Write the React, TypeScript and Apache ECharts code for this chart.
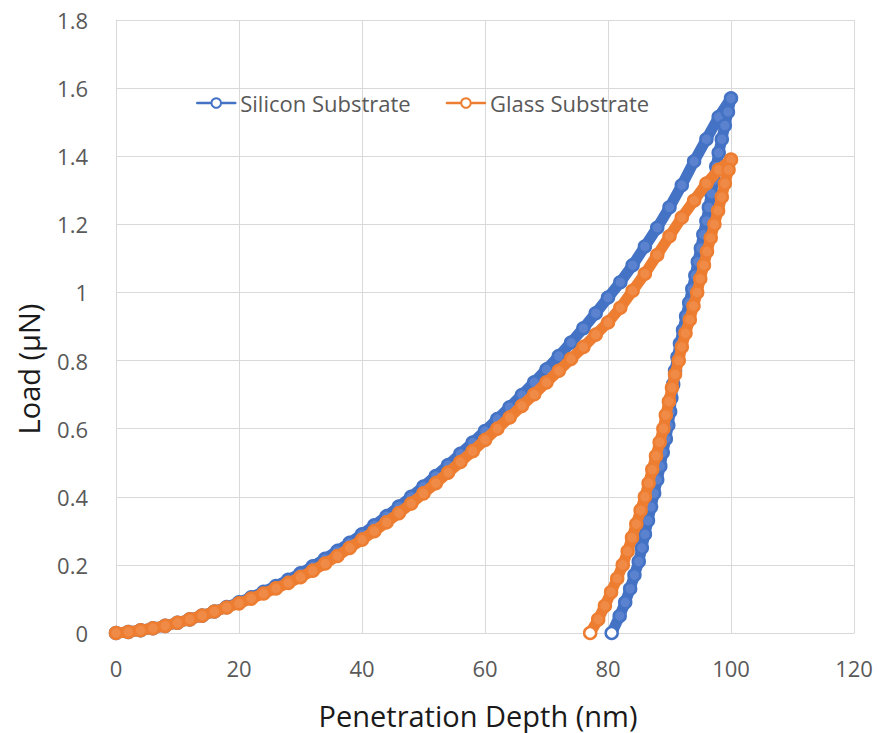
import React, { useEffect, useRef } from 'react';
import * as echarts from 'echarts';

// Loading branch depths (nm), sampled every 2 nm
const loadingDepth = [
  0, 2, 4, 6, 8, 10, 12, 14, 16, 18, 20, 22, 24, 26, 28, 30, 32, 34, 36, 38, 40,
  42, 44, 46, 48, 50, 52, 54, 56, 58, 60, 62, 64, 66, 68, 70, 72, 74, 76, 78, 80,
  82, 84, 86, 88, 90, 92, 94, 96, 98, 100,
];

// Silicon substrate – loading (µN)
const siliconLoadingLoad = [
  0, 0.003, 0.008, 0.014, 0.021, 0.03, 0.04, 0.051, 0.063, 0.076, 0.09, 0.105,
  0.121, 0.138, 0.156, 0.175, 0.196, 0.218, 0.241, 0.265, 0.29, 0.316, 0.343,
  0.371, 0.4, 0.43, 0.461, 0.493, 0.526, 0.559, 0.593, 0.628, 0.663, 0.699,
  0.736, 0.774, 0.813, 0.853, 0.895, 0.939, 0.985, 1.03, 1.08, 1.135, 1.19,
  1.25, 1.315, 1.385, 1.45, 1.515, 1.57,
];

// Glass substrate – loading (µN)
const glassLoadingLoad = [
  0, 0.003, 0.008, 0.014, 0.021, 0.03, 0.04, 0.051, 0.063, 0.075, 0.087, 0.101,
  0.116, 0.131, 0.147, 0.164, 0.183, 0.204, 0.226, 0.25, 0.274, 0.299, 0.325,
  0.352, 0.38, 0.41, 0.44, 0.471, 0.502, 0.534, 0.567, 0.6, 0.633, 0.667,
  0.701, 0.736, 0.77, 0.805, 0.84, 0.876, 0.912, 0.955, 1.005, 1.055, 1.11,
  1.165, 1.22, 1.27, 1.32, 1.36, 1.39,
];

// Silicon substrate – unloading
const siliconUnloadingLoad = [
  1.53, 1.49, 1.45, 1.41, 1.37, 1.33, 1.29, 1.25, 1.21, 1.17, 1.13, 1.09, 1.05,
  1.01, 0.97, 0.93, 0.89, 0.85, 0.81, 0.77, 0.73, 0.69, 0.65, 0.61, 0.57, 0.53,
  0.49, 0.45, 0.41, 0.37, 0.33, 0.29, 0.25, 0.21, 0.17, 0.13, 0.09, 0.05, 0,
];
const siliconUnloadingDepth = [
  99.5, 99.0, 98.5, 98.0, 97.6, 97.2, 96.8, 96.4, 96.0, 95.5, 95.1, 94.6, 94.2,
  93.7, 93.2, 92.7, 92.2, 91.7, 91.3, 90.9, 90.6, 90.3, 90.1, 89.8, 89.4, 88.9,
  88.5, 88.0, 87.5, 87.0, 86.5, 86.0, 85.5, 85.0, 84.3, 83.6, 82.8, 81.9, 80.6,
];

// Glass substrate – unloading
const glassUnloadingLoad = [
  1.36, 1.32, 1.28, 1.24, 1.2, 1.16, 1.12, 1.08, 1.04, 1.0, 0.96, 0.92, 0.88,
  0.84, 0.8, 0.76, 0.72, 0.68, 0.64, 0.6, 0.56, 0.52, 0.48, 0.44, 0.4, 0.36,
  0.32, 0.28, 0.24, 0.2, 0.16, 0.12, 0.08, 0.04, 0,
];
const glassUnloadingDepth = [
  99.6, 99.0, 98.5, 97.9, 97.3, 96.7, 96.1, 95.6, 95.0, 94.5, 93.9, 93.3, 92.6,
  92.0, 91.5, 90.9, 90.4, 89.9, 89.4, 89.0, 88.4, 87.8, 87.2, 86.6, 86.0, 85.3,
  84.6, 83.9, 83.2, 82.4, 81.5, 80.5, 79.5, 78.4, 77.1,
];

const xTicks = { min: 0, max: 120, interval: 20 };
const yTicks = { min: 0, max: 1.8, interval: 0.2 };

const seriesNames = ['Silicon Substrate', 'Glass Substrate'];
const xTitle = 'Penetration Depth (nm)';
const yTitle = 'Load (µN)';
const colors = ['#4472C4', '#ED7D31'];
const fills = ['#5A82CE', '#F08B47'];

const FONT = '"Open Sans", "Noto Sans", sans-serif';

function buildData(
  loadDepth: number[],
  loadVals: number[],
  unDepth: number[],
  unVals: number[]
) {
  const pts: any[] = loadDepth.map((d, i) => [d, loadVals[i]]);
  unDepth.forEach((d, i) => {
    if (i === unDepth.length - 1) {
      pts.push({ value: [d, unVals[i]], itemStyle: { color: '#ffffff' } });
    } else {
      pts.push([d, unVals[i]]);
    }
  });
  return pts;
}

export default function App() {
  const ref = useRef<HTMLDivElement>(null);

  useEffect(() => {
    const chart = echarts.init(ref.current!, null, { renderer: 'svg' });
    const datasets = [
      buildData(loadingDepth, siliconLoadingLoad, siliconUnloadingDepth, siliconUnloadingLoad),
      buildData(loadingDepth, glassLoadingLoad, glassUnloadingDepth, glassUnloadingLoad),
    ];
    const option: any = {
      animation: false,
      backgroundColor: '#ffffff',
      grid: { left: 116, right: 25, top: 20, bottom: 100, containLabel: false },
      legend: {
        left: 191,
        top: 87,
        itemWidth: 38,
        itemHeight: 12,
        itemGap: 35,
        textStyle: { fontSize: 22, color: '#595959', fontFamily: FONT },
        data: seriesNames.map((n, i) => ({
          name: n,
          itemStyle: { color: '#ffffff', borderColor: colors[i], borderWidth: 2 },
          lineStyle: { color: colors[i], width: 2.5 },
        })),
      },
      graphic: [
        {
          type: 'text',
          x: 478,
          y: 715,
          style: {
            text: xTitle,
            font: '29px "Open Sans", "Noto Sans", sans-serif',
            fill: '#1a1a1a',
            align: 'center',
            verticalAlign: 'middle',
          },
        },
        {
          type: 'text',
          x: 28,
          y: 369,
          rotation: Math.PI / 2,
          style: {
            text: yTitle,
            font: '29px "Open Sans", "Noto Sans", sans-serif',
            fill: '#1a1a1a',
            align: 'center',
            verticalAlign: 'middle',
          },
        },
      ],
      xAxis: {
        type: 'value',
        ...xTicks,
        axisLine: { show: true, lineStyle: { color: '#d9d9d9', width: 1 } },
        axisTick: { show: false },
        axisLabel: { color: '#595959', fontSize: 22, fontFamily: FONT, margin: 24 },
        splitLine: { show: true, lineStyle: { color: '#d9d9d9', width: 1 } },
      },
      yAxis: {
        type: 'value',
        ...yTicks,
        axisLine: { show: true, lineStyle: { color: '#d9d9d9', width: 1 } },
        axisTick: { show: false },
        axisLabel: { color: '#595959', fontSize: 22, fontFamily: FONT, margin: 28 },
        splitLine: { show: true, lineStyle: { color: '#d9d9d9', width: 1 } },
      },
      series: seriesNames.map((n, i) => ({
        name: n,
        type: 'line',
        data: datasets[i],
        showSymbol: true,
        showAllSymbol: true,
        symbol: 'circle',
        symbolSize: 12,
        itemStyle: { color: fills[i], borderColor: colors[i], borderWidth: 2.5 },
        lineStyle: { color: colors[i], width: 11, cap: 'round', join: 'round' },
        emphasis: { disabled: true },
        z: 2 + i,
      })),
    };
    chart.setOption(option);
    return () => chart.dispose();
  }, []);

  return (
    <div
      ref={ref}
      style={{ position: 'fixed', left: 0, top: 0, width: 879, height: 733, background: '#fff' }}
    />
  );
}
